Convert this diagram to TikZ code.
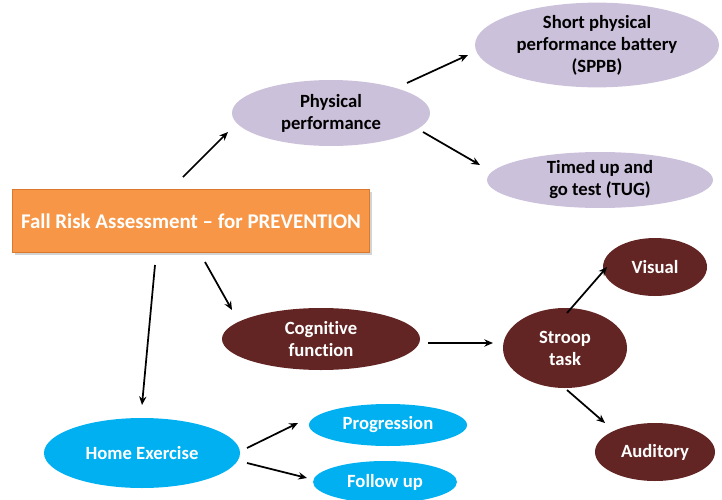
\documentclass[tikz,border=0pt]{standalone}
\usepackage{fontspec}
\setmainfont{Carlito}[Ligatures=NoCommon]
\usetikzlibrary{shapes.geometric,arrows.meta,shadows}

\definecolor{fraorange}{HTML}{F79646}
\definecolor{fraedge}{HTML}{D9782F}
\definecolor{lavender}{HTML}{CCC1DA}
\definecolor{maroon}{HTML}{632523}
\definecolor{skyblue}{HTML}{00B0F0}

\tikzset{
  txt/.style={font=\bfseries\fontsize{14}{16.5}\selectfont, align=center},
  oval/.style={ellipse, inner sep=0pt, txt},
  physoval/.style={oval, fill=lavender, text=black},
  cogoval/.style={oval, fill=maroon, text=white},
  homeoval/.style={oval, fill=skyblue, text=white},
  headbox/.style={rectangle, fill=fraorange, draw=fraedge, line width=0.4pt,
    text=white, font=\bfseries\fontsize{15.7}{18}\selectfont,
    minimum width=267.75pt, minimum height=47.25pt,
    drop shadow={shadow xshift=1.8pt, shadow yshift=-1.8pt, opacity=0.35}},
  arr/.style={-{Stealth[length=6.5pt,width=5.5pt]}, line width=1.3pt, black},
}

\begin{document}
\begin{tikzpicture}[x=0.75pt,y=-0.75pt]
  \useasboundingbox (0,0) rectangle (722,500);

  % root box
  \node[headbox] (fra) at (191,221) {Fall Risk Assessment -- for PREVENTION};

  % physical performance branch
  \node[physoval, minimum width=148.5pt, minimum height=49.5pt] (phys) at (331,113) {Physical\\performance};
  \node[physoval, minimum width=183pt, minimum height=57pt] (sppb) at (597,45) {Short physical\\performance battery\\(SPPB)};
  \node[physoval, minimum width=169.5pt, minimum height=42pt] (tug) at (600,180) {Timed up and\\go test (TUG)};

  % cognitive function branch
  \node[cogoval, minimum width=148.5pt, minimum height=46.5pt] (cog) at (321,339) {Cognitive\\function};
  \node[cogoval, minimum width=93pt, minimum height=60pt] (stroop) at (565,348) {Stroop\\task};
  \node[cogoval, minimum width=78pt, minimum height=43.5pt] (visual) at (655,267) {Visual};
  \node[cogoval, minimum width=90pt, minimum height=43.5pt] (aud) at (655,452) {Auditory};

  % home exercise branch
  \node[homeoval, minimum width=147pt, minimum height=52.5pt] (home) at (142,453) {Home Exercise};
  \node[homeoval, minimum width=118.5pt, minimum height=31.5pt] (prog) at (388,425) {Progression};
  \node[homeoval, minimum width=108pt, minimum height=31.5pt] (fol) at (385,482) {Follow up};

  % connectors
  \draw[arr] ([shift={(-8,-44)}]fra.center) -- ([shift={(-103,19)}]phys.center);
  \draw[arr] ([shift={(76,-30)}]phys.center) -- ([shift={(-129,10)}]sppb.center);
  \draw[arr] ([shift={(92,19)}]phys.center) -- ([shift={(-120,-15)}]tug.center);
  \draw[arr] ([shift={(14,41)}]fra.center) -- ([shift={(-89,-29)}]cog.center);
  \draw[arr] ([shift={(-36,44)}]fra.center) -- ([shift={(0,-48)}]home.center);
  \draw[arr] ([shift={(107,4)}]cog.center) -- ([shift={(-72,-5)}]stroop.center);
  \draw[arr] ([shift={(2,-35)}]stroop.center) -- ([shift={(-48,0)}]visual.center);
  \draw[arr] ([shift={(2,42)}]stroop.center) -- ([shift={(-50,-29)}]aud.center);
  \draw[arr] ([shift={(105,-5)}]home.center) -- ([shift={(-90,-2)}]prog.center);
  \draw[arr] ([shift={(105,10)}]home.center) -- ([shift={(-78,-4)}]fol.center);
\end{tikzpicture}
\end{document}
